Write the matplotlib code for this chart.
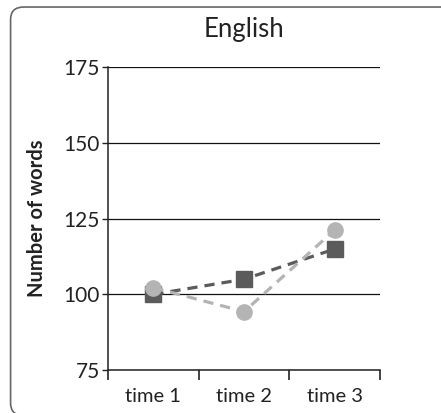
import numpy as np
import matplotlib.pyplot as plt
from matplotlib.patches import FancyBboxPatch

plt.rcParams['font.family'] = ['Lato', 'DejaVu Sans']

# data
categories = ["time 1", "time 2", "time 3"]
squares = [100, 105, 115]
circles = [102.2, 94.3, 121.3]
y_ticks = [75, 100, 125, 150, 175]

fig = plt.figure(figsize=(4.41, 4.13), dpi=100)

# rounded frame around the chart, cut by the right and bottom edges
frame = FancyBboxPatch((0.024, -0.006), 1.2, 0.989,
                       boxstyle="round,pad=0,rounding_size=0.03",
                       transform=fig.transFigure, facecolor="white",
                       edgecolor="#666666", linewidth=1.2, zorder=-5)
fig.patches.append(frame)

ax = fig.add_axes([0.245, 0.104, 0.617, 0.733])
ax.patch.set_alpha(0)

x = np.arange(len(categories))
ax.plot(x, squares, linestyle="--", dashes=(3.2, 2.2), color="#5b5b5b", lw=2.3,
        marker="s", markersize=12, zorder=3)
ax.plot(x, circles, linestyle="--", dashes=(3.2, 2.2), color="#b4b4b4", lw=2.3,
        marker="o", markersize=11, zorder=4)

ax.set_xlim(-0.5, 2.5)
ax.set_ylim(75, 175)
ax.set_yticks(y_ticks)
ax.set_xticks(x)
ax.set_xticklabels(categories)
ax.tick_params(axis="x", length=0, labelsize=14.5, pad=13, colors="#222222")
ax.set_xticks([-0.5, 0.5, 1.5, 2.5], minor=True)
ax.tick_params(axis="x", which="minor", length=7, width=1.2, color="#222222")
ax.tick_params(axis="y", length=4, width=1, labelsize=15, pad=2, colors="#222222")

ax.grid(axis="y", color="#111111", lw=0.9)
for s in ["top", "right"]:
    ax.spines[s].set_visible(False)
ax.spines["left"].set_linewidth(1.1)
ax.spines["bottom"].set_linewidth(1.1)
ax.spines["left"].set_color("#222222")
ax.spines["bottom"].set_color("#222222")

ax.set_title("English", fontsize=18.5, color="#222222", pad=22)
ax.set_ylabel("Number of words", fontsize=14.5, fontweight="bold",
              color="#222222", labelpad=12)

fig.savefig("out.png", dpi=100)
